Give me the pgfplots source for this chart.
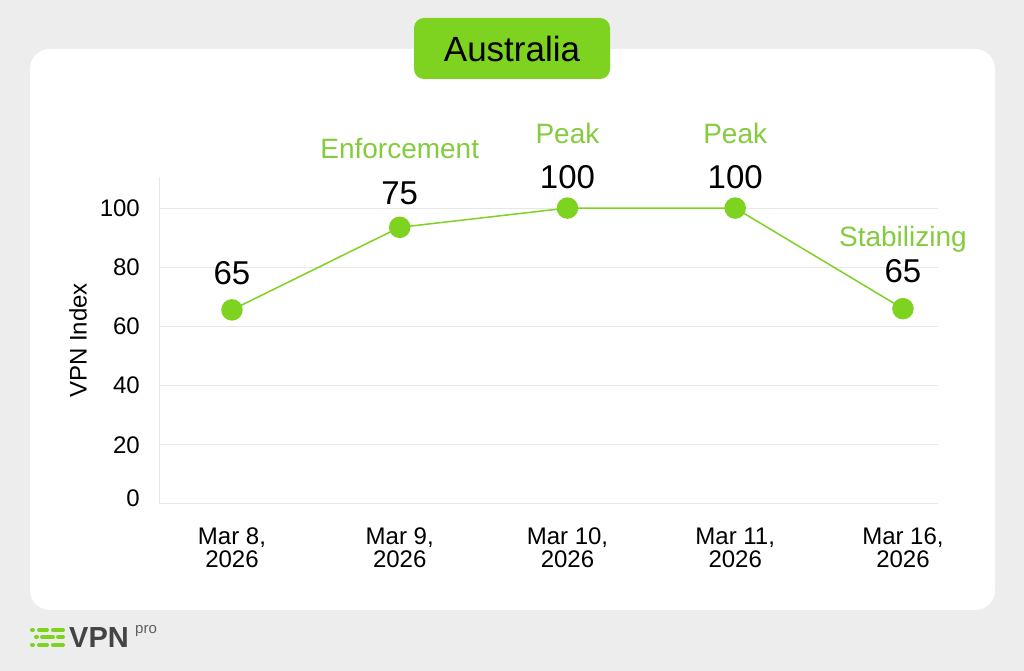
\documentclass[border=0pt]{standalone}
\usepackage{pgfplots}
\pgfplotsset{compat=1.18}
\usepackage{fontspec}
\setmainfont{Liberation Sans}
\definecolor{bgc}{HTML}{EDEDED}
\definecolor{vgreen}{HTML}{7ED321}
\definecolor{agreen}{HTML}{84CC3E}
\definecolor{gridc}{HTML}{E8E8E8}
\definecolor{logogray}{HTML}{444444}
\begin{document}
\begin{tikzpicture}[x=1pt,y=1pt]
% background and card
\fill[bgc] (0,0) rectangle (1024,671);
\fill[white, rounded corners=20pt] (30,61) rectangle (995,622);
% title box
\fill[vgreen, rounded corners=10pt] (414,592) rectangle (610,653);
\node[font=\fontsize{35}{40}\selectfont, text=black] at (512,622) {Australia};
% logo
\begin{scope}[line width=4pt, line cap=round, vgreen]
\draw (32,41) -- (33,41); \draw (39,41) -- (47,41); \draw (53,41) -- (63,41);
\draw (36,34) -- (37,34); \draw (42,34) -- (53,34); \draw (58,34) -- (63,34);
\draw (32,26) -- (33,26); \draw (39,26) -- (47,26); \draw (53,26) -- (63,26);
\end{scope}
\node[anchor=base west, inner sep=0pt, font=\fontsize{29}{32}\selectfont\bfseries, text=logogray] at (69,23) {VPN};
\node[anchor=base west, inner sep=0pt, font=\fontsize{15}{18}\selectfont, text=logogray!85] at (135,37) {pro};
\begin{axis}[
  at={(159pt,167pt)}, anchor=south west,
  scale only axis, width=779pt, height=327pt,
  xmin=-0.435, xmax=4.209, ymin=0, ymax=110.5,
  axis x line*=bottom, axis y line*=left,
  x axis line style={draw=none},
  y axis line style={draw=gridc, line width=1pt, -},
  ymajorgrids, grid style={draw=gridc, line width=1pt},
  ytick={0,20,40,60,80,100},
  yticklabels={\raisebox{12pt}{0},20,40,60,80,100},
  xtick={0,1,2,3,4},
  xticklabels={{Mar 8,\\2026},{Mar 9,\\2026},{Mar 10,\\2026},{Mar 11,\\2026},{Mar 16,\\2026}},
  major tick length=0pt,
  /pgf/number format/assume math mode=true,
  yticklabel style={font=\fontsize{24}{26}\selectfont, inner sep=0pt, anchor=east, xshift=-19pt},
  xticklabel style={font=\fontsize{24}{23}\selectfont, inner sep=0pt, anchor=north, align=center, yshift=-24pt},
  ylabel={VPN Index},
  ylabel style={font=\fontsize{24}{26}\selectfont, at={(axis description cs:-0.104,0.5)}, anchor=center, rotate=0},
  clip=false,
]
\addplot[color=vgreen, line width=1.5pt, mark=*, mark size=10pt, mark options={fill=vgreen, draw=none}]
  coordinates {(0,65.6) (1,93.5) (2,100) (3,100) (4,66)};
% value labels
\begin{scope}[every node/.style={anchor=base, inner sep=0pt, font=\fontsize{33}{36}\selectfont, text=black}]
\node[yshift=25pt] at (axis cs:0,65.6) {65};
\node[yshift=23pt] at (axis cs:1,93.5) {75};
\node[yshift=20pt] at (axis cs:2,100) {100};
\node[yshift=20pt] at (axis cs:3,100) {100};
\node[yshift=26pt] at (axis cs:4,66) {65};
\end{scope}
% annotations
\begin{scope}[every node/.style={anchor=base, inner sep=0pt, font=\fontsize{28}{30}\selectfont, text=agreen}]
\node[yshift=69pt] at (axis cs:1,93.5) {Enforcement};
\node[yshift=65pt] at (axis cs:2,100) {Peak};
\node[yshift=65pt] at (axis cs:3,100) {Peak};
\node[yshift=62pt] at (axis cs:4,66) {Stabilizing};
\end{scope}
\end{axis}
\end{tikzpicture}
\end{document}
